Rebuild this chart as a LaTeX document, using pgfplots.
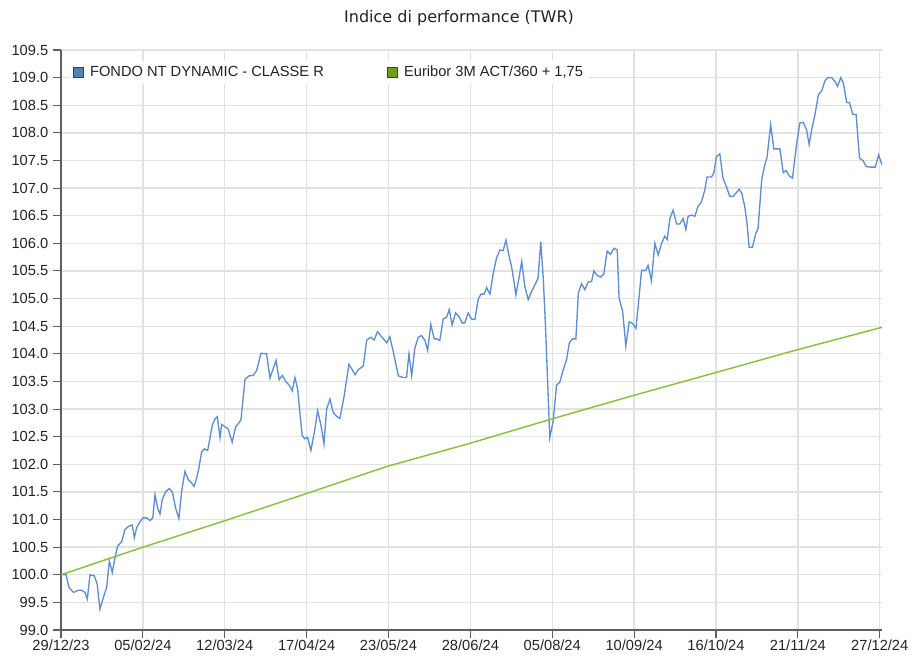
\documentclass[border=0pt]{standalone}
\usepackage{fontspec}
\setmainfont{Liberation Sans}
\newfontfamily\titlefont{DejaVu Sans}
\usepackage{pgfplots}
\pgfplotsset{compat=1.18}

\definecolor{fondoline}{RGB}{94,142,206}
\definecolor{fondofill}{RGB}{79,129,189}
\definecolor{euriline}{RGB}{141,192,62}
\definecolor{eurifill}{RGB}{104,160,32}
\definecolor{axisgray}{RGB}{95,95,95}
\definecolor{gridgray}{RGB}{226,226,226}
\definecolor{labelgray}{RGB}{35,35,35}

\begin{document}
\begin{tikzpicture}
\begin{axis}[
    scale only axis,
    width=615.75pt, height=435pt,
    xmin=0, xmax=365,
    ymin=99, ymax=109.5,
    axis x line*=bottom, axis y line*=left,
    axis line style={draw=axisgray, line width=0.8pt, -},
    xtick={0,36.4,72.8,109.2,145.6,182,218.4,254.8,291.2,327.6,364},
    xticklabels={29/12/23,05/02/24,12/03/24,17/04/24,23/05/24,28/06/24,05/08/24,10/09/24,16/10/24,21/11/24,27/12/24},
    ytick={99,99.5,100,100.5,101,101.5,102,102.5,103,103.5,104,104.5,105,105.5,106,106.5,107,107.5,108,108.5,109,109.5},
    yticklabel style={/pgf/number format/.cd, fixed, fixed zerofill, precision=1},
    xticklabel style={yshift=2pt},
    /pgf/number format/assume math mode=true,
    tick align=outside,
    major tick length=6pt,
    tick style={draw=axisgray, line width=0.8pt},
    grid=major,
    major grid style={draw=gridgray, line width=1pt},
    ticklabel style={font=\fontsize{11}{13}\selectfont, text=labelgray},
    every axis title shift=0pt,
    title={Indice di performance (TWR)},
    title style={at={(0.4848,1)}, anchor=center, yshift=24pt,
        font=\titlefont\fontsize{12}{14}\selectfont, text=labelgray},
    legend columns=2,
    legend cell align=left,
    legend style={at={(0,1)}, anchor=north west, xshift=6.5pt, yshift=-8pt,
        draw=none, fill=white, inner sep=2pt,
        font=\fontsize{11}{13}\selectfont, text=labelgray,
        /tikz/every odd column/.append style={column sep=3pt},
        /tikz/every even column/.append style={column sep=45pt}},
]

% Fondo NT Dynamic - Classe R
\addplot[fondoline, line width=1pt,
    legend image code/.code={\draw[draw=black!75, fill=fondofill, line width=0.6pt] (0pt,-3.75pt) rectangle (7.5pt,3.75pt);}]
coordinates {
(0,100.0) (2.2,100.0) (3.6,99.77) (5.5,99.68) (7.7,99.72) (9.2,99.72) (10.7,99.68)
(11.7,99.56) (12.9,100.0) (14.8,99.98) (16.1,99.83) (17.3,99.38) (19.3,99.65) (20.3,99.77)
(21.5,100.25) (22.8,100.04) (24,100.31) (25.2,100.52) (27,100.6) (28.4,100.82) (30.2,100.88)
(31.7,100.9) (32.6,100.67) (33.6,100.85) (35.1,100.96) (36.6,101.03) (38.1,101.03) (39.6,100.98)
(40.8,101.03) (41.8,101.45) (43,101.2) (44,101.1) (45,101.36) (46.5,101.5) (48.1,101.56)
(49.5,101.5) (51,101.2) (52.4,101.02) (53.6,101.5) (55.1,101.87) (56.6,101.72) (58.1,101.66)
(59.2,101.6) (60.3,101.75) (61.3,101.93) (62.5,102.22) (63.7,102.28) (65.2,102.25) (66.2,102.47)
(67.2,102.7) (68.4,102.82) (69.5,102.86) (70.7,102.48) (71.4,102.72) (72.9,102.68) (74.3,102.64)
(76.1,102.4) (77.6,102.67) (80,102.8) (81.8,103.54) (83.6,103.6) (85.5,103.61) (87,103.7)
(88.9,104.01) (91.4,104.0) (92.9,103.56) (94.4,103.74) (95.6,103.88) (97,103.53) (98.4,103.61)
(99.9,103.5) (101.5,103.43) (102.8,103.33) (104,103.57) (105.2,103.36) (106.2,102.94) (107.2,102.52)
(108.4,102.46) (109.6,102.49) (111.1,102.25) (112.9,102.64) (114.1,102.97) (115.6,102.7) (116.9,102.37)
(118.1,103.0) (119.6,103.18) (121,102.94) (122.5,102.87) (124,102.83) (125.9,103.24) (128,103.81)
(129.5,103.71) (130.7,103.62) (132.1,103.71) (134.4,103.78) (135.9,104.25) (137.8,104.3) (139.2,104.25)
(140.7,104.4) (142.5,104.31) (144.8,104.2) (146.2,104.31) (147.7,104.04) (150,103.6) (152.1,103.57)
(153.6,103.57) (154.7,104.0) (155.9,103.6) (157.3,104.1) (158.8,104.3) (160.3,104.33) (161.8,104.24)
(163,104.06) (164.4,104.53) (165.9,104.27) (167,104.27) (168.4,104.24) (169.9,104.63) (171.4,104.66)
(172.6,104.8) (173.9,104.52) (175.4,104.74) (176.9,104.68) (178.3,104.56) (179.5,104.56) (181,104.74)
(182.5,104.63) (184,104.62) (185.5,104.99) (186.7,105.08) (188.1,105.08) (189.2,105.2) (190.7,105.08)
(192.1,105.44) (193.6,105.73) (195.1,105.88) (196.6,105.87) (197.8,106.06) (199.1,105.79) (200.3,105.58)
(201.5,105.28) (202.2,105.07) (203.6,105.37) (204.8,105.67) (206.2,105.22) (207.7,104.98) (209.2,105.13)
(210.7,105.25) (212.1,105.37) (213.3,106.03) (214.4,105.37) (215.4,104.5) (216.3,103.55) (217.3,102.48)
(218.8,102.78) (220.3,103.43) (221.8,103.49) (223.2,103.7) (224.8,103.9) (226,104.2) (227.4,104.27)
(228.9,104.27) (230,105.1) (231.4,105.27) (232.9,105.16) (234.4,105.3) (235.9,105.31) (236.9,105.5)
(238.4,105.42) (239.9,105.39) (241.3,105.44) (242.8,105.86) (244.3,105.8) (245.8,105.91) (247.3,105.88)
(248.1,105.01) (249.7,104.77) (251.1,104.14) (252.6,104.58) (254.1,104.55) (255.6,104.46) (257,105.03)
(258.1,105.51) (260,105.51) (261,105.6) (262.5,105.32) (264,106.0) (265.5,105.79) (267,106.0)
(268.4,106.13) (269.5,106.07) (270.7,106.45) (272.1,106.6) (273.7,106.35) (275.1,106.35) (276.6,106.45)
(277.8,106.25) (278.8,106.49) (280.3,106.51) (281.8,106.49) (283.2,106.67) (284.7,106.75) (286.2,106.96)
(287.2,107.2) (289.2,107.2) (290.2,107.27) (291.4,107.57) (292.9,107.62) (294.3,107.18) (295.8,107.03)
(297.3,106.85) (298.8,106.85) (300.3,106.92) (301.5,106.98) (302.7,106.9) (304,106.66) (305,106.36)
(305.9,105.93) (307.4,105.93) (308.9,106.18) (309.9,106.27) (311.5,107.15) (312.9,107.42) (313.9,107.56)
(315.5,108.15) (316.9,107.71) (318.1,107.71) (319.6,107.71) (321.1,107.28) (322.3,107.32) (323.8,107.22)
(325.2,107.18) (327.1,107.82) (328.5,108.18) (330,108.19) (331.5,108.05) (332.6,107.79) (333.7,108.05)
(335.2,108.33) (336.7,108.69) (338.2,108.76) (339.7,108.95) (341.1,109.0) (342.6,109.0) (344.1,108.93)
(345.2,108.84) (346.7,109.0) (347.8,108.9) (349.3,108.55) (350.5,108.55) (352,108.34) (353.5,108.33)
(355,107.54) (356.5,107.5) (358,107.39) (359.7,107.38) (362,107.38) (363.5,107.6) (365,107.42)
};
\addlegendentry{FONDO NT DYNAMIC - CLASSE R}

% Euribor 3M ACT/360 + 1,75
\addplot[euriline, line width=1.1pt,
    legend image code/.code={\draw[draw=black!75, fill=eurifill, line width=0.6pt] (0pt,-3.75pt) rectangle (7.5pt,3.75pt);}]
coordinates {
(0,100.0) (35,100.48) (71.4,100.96) (106.2,101.43) (144.8,101.96) (181,102.37)
(217.3,102.81) (254,103.24) (291,103.66) (327,104.07) (365,104.48)
};
\addlegendentry{Euribor 3M ACT/360 + 1,75}

\coordinate (sw) at (rel axis cs:0,0);
\coordinate (ne) at (rel axis cs:1,1);
\end{axis}
\pgfresetboundingbox
\path ([xshift=-45.75pt,yshift=-22.5pt]sw) rectangle ([xshift=22.5pt,yshift=37.5pt]ne);
\end{tikzpicture}
\end{document}
